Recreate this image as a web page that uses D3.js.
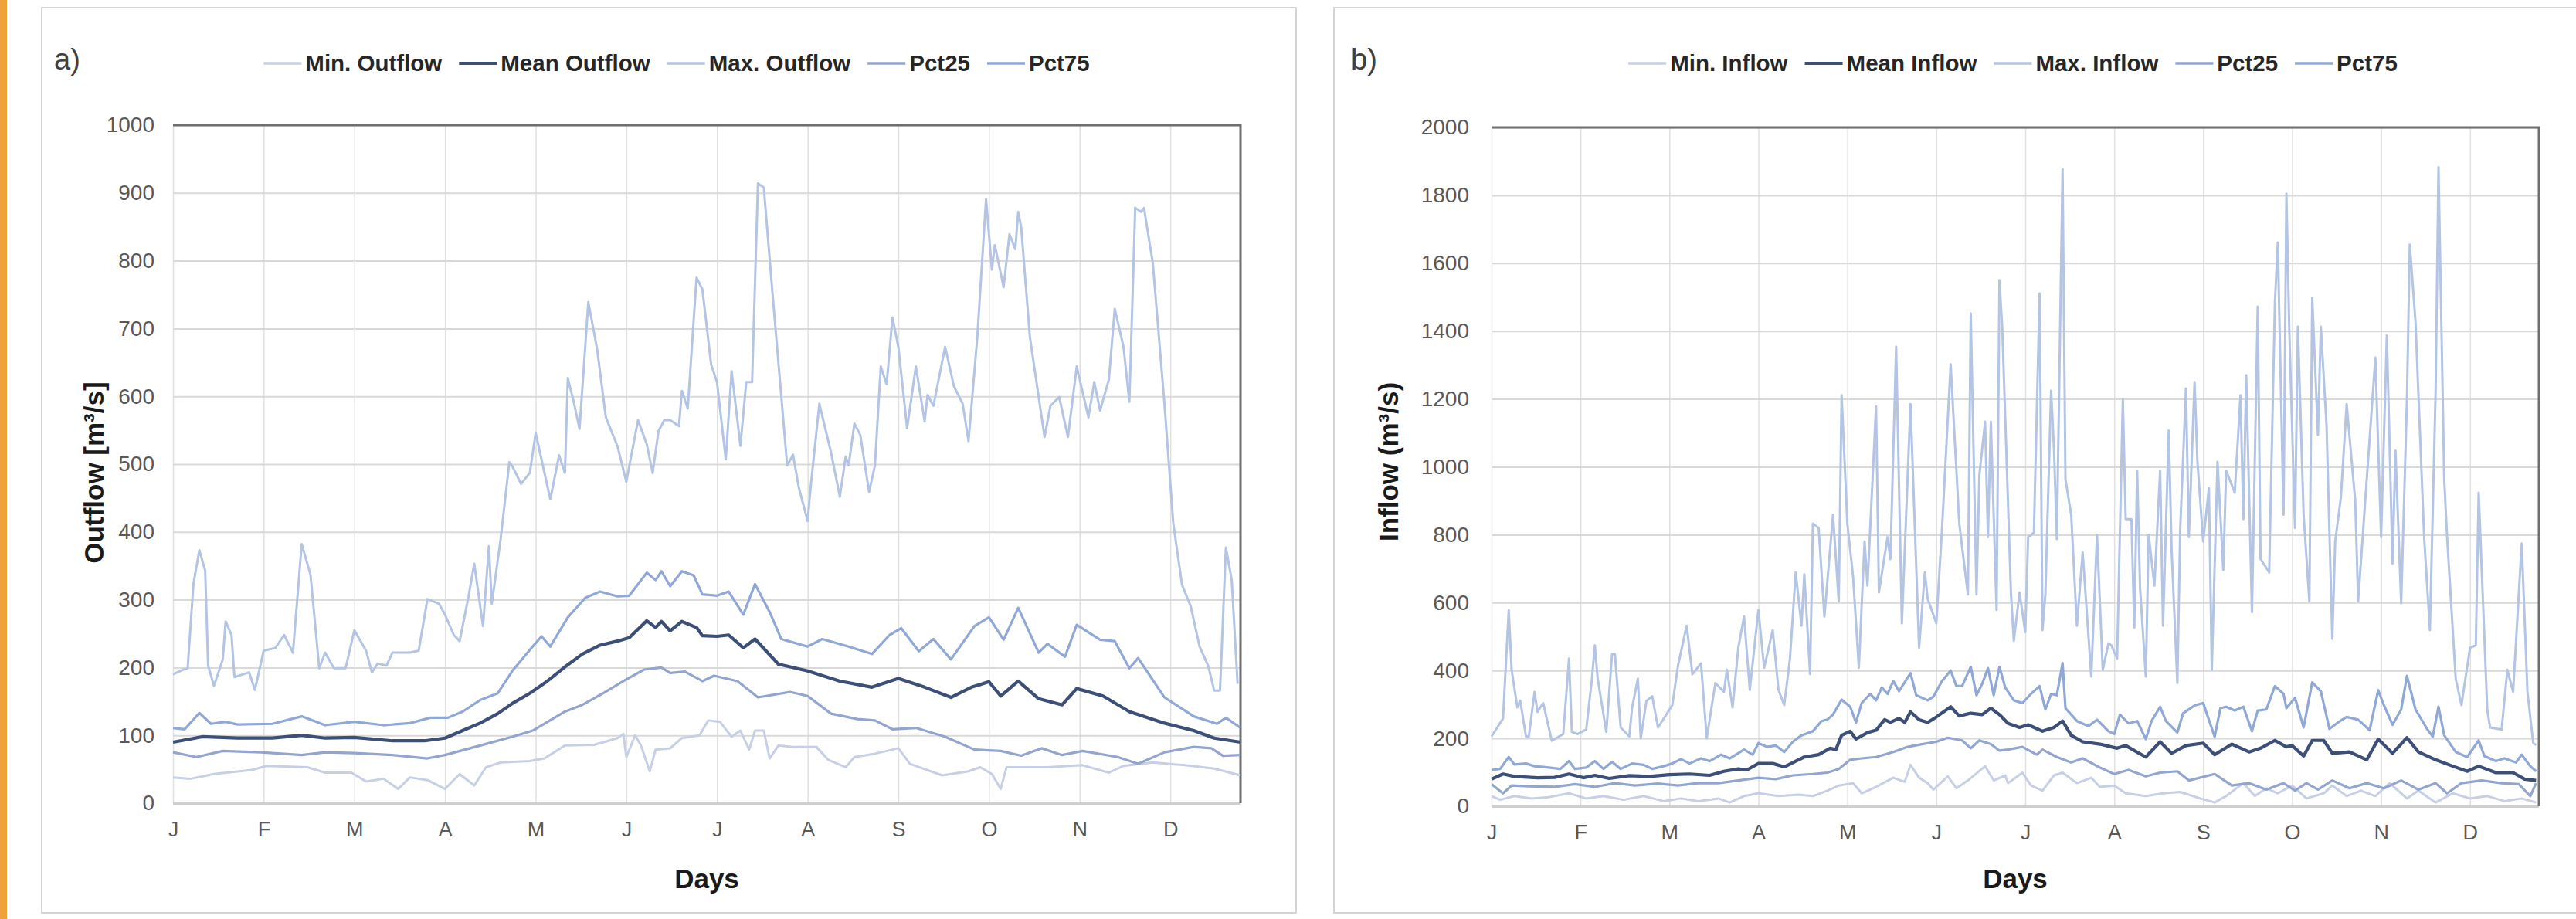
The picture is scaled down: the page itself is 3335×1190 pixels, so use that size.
<!DOCTYPE html>
<html>
<head>
<meta charset="utf-8">
<script src="https://cdn.jsdelivr.net/npm/d3@7"></script>
<style>
  body { margin: 0; background: #ffffff; }
  svg { display: block; }
</style>
</head>
<body>
<script>
// Month labels, one tick every 31 days
var monthLabels = ["J", "F", "M", "A", "M", "J", "J", "A", "S", "O", "N", "D"]
var monthDays = [0, 31, 62, 93, 124, 155, 186, 217, 248, 279, 310, 341]
var outTicks = [0, 100, 200, 300, 400, 500, 600, 700, 800, 900, 1000]
var inTicks = [0, 200, 400, 600, 800, 1000, 1200, 1400, 1600, 1800, 2000]

var outNames = ["Min. Outflow", "Mean Outflow", "Max. Outflow", "Pct25", "Pct75"]
var inNames = ["Min. Inflow", "Mean Inflow", "Max. Inflow", "Pct25", "Pct75"]

// Outflow series, [day, m3/s]
var outMin = [[0,38],[6,36],[14,43],[27,49],[32,55],[46,53],[52,45],[61,45],[66,32],[72,36],[77,21],[81,38],[87,34],[93,21],[98,43],[103,26],[107,53],[112,60],[122,62],[127,66],[134,85],[144,86],[152,96],[154,102],[155,68],[158,100],[160,85],[163,47],[165,79],[170,81],[174,96],[180,100],[183,122],[187,120],[191,98],[194,107],[197,79],[199,107],[202,107],[204,66],[207,85],[212,83],[220,83],[224,64],[230,53],[233,68],[240,73],[248,81],[252,58],[263,41],[272,47],[276,53],[280,43],[283,21],[285,53],[299,53],[311,56],[320,45],[325,55],[335,60],[346,56],[356,51],[365,41]]
var outMean = [[0,90],[10,98],[22,96],[34,96],[44,100],[52,96],[62,97],[75,92],[86,92],[93,96],[99,107],[105,118],[111,132],[116,147],[122,162],[128,180],[134,201],[140,220],[146,233],[152,239],[156,244],[162,269],[165,259],[167,268],[170,254],[174,268],[179,259],[181,247],[186,246],[190,248],[195,229],[199,242],[207,205],[217,195],[228,180],[239,171],[248,184],[257,171],[266,156],[273,171],[279,179],[283,158],[289,180],[296,154],[304,145],[309,169],[318,158],[327,135],[339,118],[349,107],[356,96],[365,90]]
var outMax = [[0,190],[3,196],[5,199],[7,324],[9,373],[11,343],[12,203],[14,173],[17,212],[18,268],[20,248],[21,186],[24,190],[26,193],[28,167],[31,225],[35,229],[38,248],[41,222],[44,382],[47,337],[50,199],[52,222],[55,199],[59,199],[62,255],[66,225],[68,193],[70,206],[73,203],[75,222],[81,222],[84,225],[87,301],[91,294],[93,278],[96,248],[98,239],[101,304],[103,353],[106,261],[108,379],[109,294],[112,389],[115,503],[116,497],[119,471],[122,487],[124,546],[126,507],[129,448],[132,513],[134,487],[135,627],[137,592],[139,552],[142,739],[145,670],[148,569],[152,526],[155,474],[159,565],[162,529],[164,487],[166,549],[168,565],[170,565],[173,556],[174,608],[176,582],[179,775],[181,758],[184,647],[186,621],[189,507],[191,637],[194,527],[196,621],[198,621],[200,914],[202,908],[205,751],[210,498],[212,514],[214,465],[217,416],[218,465],[221,589],[225,517],[228,452],[230,511],[231,498],[233,560],[235,543],[238,459],[240,498],[242,644],[244,618],[246,716],[248,673],[251,553],[254,644],[257,563],[258,602],[260,586],[264,673],[267,615],[270,589],[272,534],[275,687],[278,891],[280,787],[281,823],[284,761],[286,839],[288,817],[289,872],[290,850],[293,687],[298,540],[300,586],[303,599],[306,540],[309,644],[313,569],[315,621],[317,579],[320,625],[322,729],[325,673],[327,592],[329,878],[331,872],[332,878],[335,797],[339,589],[342,413],[345,322],[348,290],[351,231],[354,202],[356,166],[358,166],[360,377],[362,329],[364,176]]
var outP25 = [[0,75],[8,68],[17,77],[30,75],[44,71],[52,75],[62,74],[75,71],[87,66],[93,71],[105,85],[116,98],[123,107],[134,135],[140,145],[147,162],[154,180],[161,197],[167,200],[170,192],[175,194],[181,180],[185,188],[193,180],[200,156],[211,164],[217,158],[225,132],[234,124],[240,122],[246,109],[254,111],[264,98],[274,79],[283,77],[290,70],[297,81],[304,71],[311,77],[323,68],[330,58],[339,75],[349,83],[355,81],[359,70],[365,71]]
var outP75 = [[0,111],[4,109],[9,133],[13,117],[18,120],[22,116],[34,117],[44,128],[52,115],[62,120],[72,115],[81,118],[88,126],[94,126],[99,135],[105,152],[111,162],[116,195],[122,226],[126,246],[129,231],[135,274],[141,303],[146,312],[152,305],[156,306],[162,340],[165,329],[167,342],[170,320],[174,342],[178,336],[181,308],[186,306],[190,312],[195,278],[199,323],[204,282],[208,242],[217,231],[222,242],[231,231],[239,220],[245,248],[249,258],[255,224],[260,242],[266,212],[274,261],[279,274],[284,241],[289,288],[296,222],[299,235],[305,216],[309,263],[317,241],[322,239],[327,199],[330,214],[339,156],[349,128],[357,117],[360,126],[365,111]]

// Inflow series, [day, m3/s]
var inMin = [[0,30],[3,19],[8,30],[14,23],[20,27],[27,38],[33,23],[39,30],[46,19],[53,30],[60,15],[66,23],[72,15],[79,23],[83,11],[88,30],[93,38],[100,30],[107,34],[112,30],[117,46],[121,61],[126,68],[129,38],[134,57],[140,84],[144,72],[146,122],[149,84],[152,68],[154,49],[159,88],[162,53],[166,76],[172,118],[175,76],[179,91],[180,68],[185,99],[188,61],[192,46],[196,91],[199,99],[204,68],[209,84],[212,57],[217,61],[221,38],[228,30],[234,38],[240,42],[247,23],[252,11],[256,30],[262,68],[266,30],[270,53],[274,38],[279,61],[284,23],[290,38],[293,61],[298,30],[303,46],[308,30],[313,68],[319,23],[323,46],[329,11],[335,38],[341,23],[347,30],[353,15],[359,23],[364,11]]
var inMean = [[0,80],[4,95],[8,88],[16,84],[22,85],[27,95],[32,84],[36,91],[41,82],[48,90],[55,88],[62,93],[69,95],[76,91],[81,103],[86,110],[89,107],[93,126],[98,126],[102,116],[106,133],[109,145],[114,152],[118,171],[120,167],[122,209],[125,221],[127,198],[131,217],[134,224],[137,255],[139,247],[142,259],[144,247],[146,278],[149,255],[152,247],[155,263],[160,293],[163,266],[167,274],[171,270],[174,289],[177,270],[180,244],[184,232],[187,240],[192,221],[196,232],[199,251],[202,209],[206,190],[212,183],[218,171],[221,179],[224,164],[228,145],[233,190],[237,156],[242,179],[248,186],[252,152],[258,183],[264,160],[268,171],[273,194],[277,175],[279,179],[283,148],[286,194],[290,194],[293,156],[299,160],[305,137],[309,198],[314,156],[319,202],[323,160],[329,137],[335,118],[340,103],[344,118],[350,99],[356,99],[360,80],[364,76]]
var inMax = [[0,206],[2,232],[4,258],[6,578],[7,402],[9,291],[10,311],[12,206],[13,206],[15,337],[16,278],[18,304],[21,193],[25,213],[27,435],[28,219],[30,213],[33,226],[35,376],[36,474],[37,376],[40,219],[42,448],[43,448],[45,232],[48,206],[49,291],[51,376],[52,200],[54,311],[56,324],[58,232],[60,258],[63,298],[65,415],[68,532],[70,389],[73,421],[75,200],[78,363],[81,337],[82,402],[84,291],[86,467],[88,559],[90,343],[93,578],[95,408],[98,519],[100,343],[102,298],[104,435],[106,689],[108,532],[109,683],[111,389],[112,833],[114,820],[116,559],[119,859],[121,604],[122,1211],[124,833],[126,676],[128,408],[130,780],[131,650],[134,1178],[135,630],[138,793],[139,728],[141,1354],[143,539],[146,1185],[149,467],[151,689],[152,611],[155,539],[157,820],[160,1302],[163,833],[166,624],[167,1452],[169,624],[170,976],[172,1133],[173,793],[174,1133],[176,578],[177,1550],[178,1407],[181,630],[182,487],[184,630],[186,513],[187,793],[189,806],[191,1511],[192,519],[193,624],[195,1224],[196,1054],[197,787],[199,1877],[200,963],[202,859],[204,532],[206,748],[209,382],[211,800],[213,402],[215,480],[216,474],[218,435],[220,1198],[221,846],[223,846],[224,526],[225,989],[226,643],[228,382],[229,800],[231,650],[233,989],[234,532],[236,1107],[237,754],[239,363],[240,820],[242,1231],[243,793],[245,1250],[246,1015],[248,780],[250,937],[251,402],[253,1015],[255,696],[256,989],[259,924],[261,1211],[262,846],[263,1270],[265,572],[267,1472],[268,728],[271,689],[273,1485],[274,1661],[276,859],[277,1805],[278,1407],[280,820],[281,1413],[283,859],[285,604],[286,1498],[288,1094],[289,1413],[291,1120],[293,493],[294,780],[296,911],[298,1185],[301,898],[302,604],[305,963],[308,1322],[310,793],[312,1387],[314,715],[315,1048],[317,598],[319,1198],[320,1655],[322,1426],[325,793],[327,519],[329,1224],[330,1883],[332,963],[333,793],[336,376],[338,298],[341,467],[343,474],[344,924],[347,284],[348,232],[352,226],[354,402],[356,337],[359,774],[361,337],[363,187],[364,180]]
var inP25 = [[0,65],[4,38],[7,61],[13,59],[22,57],[29,65],[36,57],[43,68],[50,61],[58,67],[65,61],[72,68],[79,68],[86,76],[93,84],[99,80],[105,91],[112,95],[117,99],[121,110],[125,137],[129,141],[134,145],[140,160],[145,175],[150,183],[155,190],[159,202],[164,194],[167,171],[170,194],[174,183],[177,164],[180,167],[185,175],[190,152],[192,167],[197,145],[202,129],[206,141],[212,114],[217,95],[222,107],[228,88],[233,99],[239,103],[243,76],[252,95],[258,61],[264,68],[270,49],[276,68],[280,46],[284,68],[288,49],[293,76],[299,53],[305,68],[311,53],[317,76],[323,49],[329,68],[333,38],[338,68],[345,76],[352,68],[358,65],[362,30],[364,68]]
var inP75 = [[0,107],[3,110],[6,145],[8,123],[12,126],[15,118],[20,114],[24,110],[27,133],[29,110],[33,114],[36,133],[39,110],[42,131],[45,110],[49,126],[53,122],[56,110],[60,118],[63,126],[66,139],[69,126],[73,141],[76,133],[80,152],[83,141],[88,167],[91,152],[93,186],[96,175],[99,179],[102,160],[105,190],[108,209],[112,221],[115,251],[117,255],[119,270],[122,314],[125,293],[127,247],[129,304],[132,331],[134,312],[136,350],[138,331],[140,369],[142,339],[146,392],[148,327],[152,312],[154,323],[157,369],[160,400],[162,354],[164,354],[167,411],[169,327],[171,361],[173,407],[175,327],[177,411],[179,350],[182,312],[185,304],[188,331],[191,354],[193,285],[195,331],[197,327],[199,422],[200,289],[204,251],[208,236],[211,255],[215,221],[217,213],[219,270],[222,244],[225,251],[228,198],[230,251],[233,293],[235,251],[239,217],[241,274],[245,297],[248,304],[252,205],[254,289],[256,293],[259,282],[262,293],[265,221],[267,282],[270,285],[273,354],[276,331],[277,289],[280,319],[283,232],[286,365],[289,339],[292,228],[295,247],[298,263],[302,255],[306,224],[309,342],[311,297],[314,240],[317,285],[319,384],[322,285],[326,228],[328,205],[330,293],[332,209],[336,160],[340,145],[344,194],[346,148],[350,133],[353,141],[357,129],[359,152],[362,118],[364,103]]

// Line colours and widths in series order: min, mean, max, pct25, pct75
var colors = ["#c6cfe5", "#3c4f78", "#b3c4e4", "#92a5d0", "#8fa8d8"]
var widths = [3, 4.2, 3, 3.2, 3.2]

var W = 3335, H = 1190
var narrow = "'Liberation Sans Narrow', 'Arial Narrow', 'Liberation Sans', sans-serif"
var regular = "'Liberation Sans', Arial, sans-serif"

var svg = d3.select("body")
            .append("svg")
            .attr("width", W)
            .attr("height", H)

// Orange strip on the left edge
svg.append("rect")
   .attr("x", 0).attr("y", 0)
   .attr("width", 9).attr("height", H)
   .attr("fill", "#eea33a")

drawPanel({
  box: [54, 10, 1624, 1172],
  left: 224, right: 1606, top: 162, bottom: 1040,
  yMax: 1000, ticks: outTicks, pad: 24,
  letter: "a)", letterX: 70,
  legendCenter: 876,
  names: outNames,
  series: [outMin, outMean, outMax, outP25, outP75],
  yTitle: "Outflow [m\u00b3/s]", yTitleX: 134, yTitleY: 612
})

drawPanel({
  box: [1727, 10, 1660, 1172],
  left: 1931, right: 3287, top: 165, bottom: 1044,
  yMax: 2000, ticks: inTicks, pad: 29,
  letter: "b)", letterX: 1749,
  legendCenter: 2606,
  names: inNames,
  series: [inMin, inMean, inMax, inP25, inP75],
  yTitle: "Inflow (m\u00b3/s)", yTitleX: 1810, yTitleY: 598
})

function drawPanel(p) {

  // Chart frame
  svg.append("rect")
     .attr("x", p.box[0]).attr("y", p.box[1])
     .attr("width", p.box[2]).attr("height", p.box[3])
     .attr("fill", "#ffffff")
     .attr("stroke", "#d4d4d4")
     .attr("stroke-width", 2)

  var x = d3.scaleLinear().domain([0, 365]).range([p.left, p.right])
  var y = d3.scaleLinear().domain([0, p.yMax]).range([p.bottom, p.top])

  // Vertical gridlines and month labels
  var xAxis = d3.axisBottom(x)
                .tickValues(monthDays)
                .tickFormat(function(d, i) { return monthLabels[i] })
                .tickSize(-(p.bottom - p.top))
                .tickPadding(24)
  var gx = svg.append("g")
              .attr("transform", "translate(0," + p.bottom + ")")
              .call(xAxis)
  gx.select(".domain").remove()
  gx.selectAll("line").attr("stroke", "#e0e0e0").attr("stroke-width", 1.5)
  gx.selectAll("text")
    .attr("fill", "#595959")
    .style("font-family", narrow)
    .style("font-size", "27px")

  // Horizontal gridlines and value labels
  var yAxis = d3.axisLeft(y)
                .tickValues(p.ticks)
                .tickFormat(d3.format("d"))
                .tickSize(-(p.right - p.left))
                .tickPadding(p.pad)
  var gy = svg.append("g")
              .attr("transform", "translate(" + p.left + ",0)")
              .call(yAxis)
  gy.select(".domain").remove()
  gy.selectAll("line")
    .attr("stroke", function(d) { return d == 0 ? "#cfcfcf" : "#d9d9d9" })
    .attr("stroke-width", function(d) { return d == 0 ? 3 : 2 })
  gy.selectAll("text")
    .attr("fill", "#595959")
    .style("font-family", narrow)
    .style("font-size", "28px")

  // Dark top and right edges of the plot area
  svg.append("path")
     .attr("d", "M" + p.left + "," + p.top + "H" + p.right + "V" + p.bottom)
     .attr("fill", "none")
     .attr("stroke", "#6f6f6f")
     .attr("stroke-width", 3)

  // Series lines
  var line = d3.line()
               .x(function(d) { return x(d[0]) })
               .y(function(d) { return y(d[1]) })
  p.series.forEach(function(s, i) {
    svg.append("path")
       .datum(s)
       .attr("d", line)
       .attr("fill", "none")
       .attr("stroke", colors[i])
       .attr("stroke-width", widths[i])
       .attr("stroke-linejoin", "round")
  })

  // Panel letter
  svg.append("text")
     .attr("x", p.letterX)
     .attr("y", 90)
     .attr("fill", "#404040")
     .style("font-family", regular)
     .style("font-size", "38px")
     .text(p.letter)

  // Legend, laid out item by item then centred
  var legend = svg.append("g")
  var cursor = 0
  p.names.forEach(function(name, i) {
    legend.append("line")
          .attr("x1", cursor).attr("x2", cursor + 49)
          .attr("y1", 0).attr("y2", 0)
          .attr("stroke", colors[i])
          .attr("stroke-width", i == 1 ? 4 : 3.5)
    var t = legend.append("text")
                  .attr("x", cursor + 54)
                  .attr("y", 10)
                  .attr("fill", "#262626")
                  .style("font-family", regular)
                  .style("font-weight", "bold")
                  .style("font-size", "29.5px")
                  .text(name)
    cursor += 54 + t.node().getComputedTextLength() + 22
  })
  cursor -= 22
  legend.attr("transform", "translate(" + (p.legendCenter - cursor / 2) + ",82)")

  // Axis titles
  svg.append("text")
     .attr("x", (p.left + p.right) / 2)
     .attr("y", 1150)
     .attr("text-anchor", "middle")
     .attr("fill", "#1a1a1a")
     .style("font-family", regular)
     .style("font-weight", "bold")
     .style("font-size", "35px")
     .text("Days")

  svg.append("text")
     .attr("transform", "translate(" + p.yTitleX + "," + p.yTitleY + ") rotate(-90)")
     .attr("text-anchor", "middle")
     .attr("fill", "#1a1a1a")
     .style("font-family", regular)
     .style("font-weight", "bold")
     .style("font-size", "35px")
     .text(p.yTitle)
}
</script>
</body>
</html>
